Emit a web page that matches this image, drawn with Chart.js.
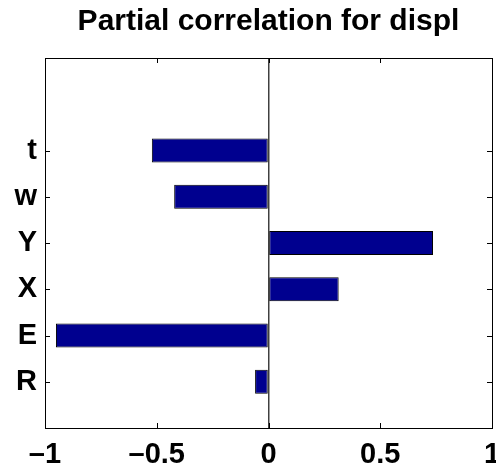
<!DOCTYPE html>
<html>
<head>
<meta charset="utf-8">
<script src="https://cdn.jsdelivr.net/npm/chart.js@4/dist/chart.umd.min.js"></script>
<style>
html,body{margin:0;padding:0;background:#fff;}
#wrap{width:496px;height:470px;}
</style>
</head>
<body>
<div id="wrap"><canvas id="c" width="496" height="470"></canvas></div>
<script>
const titleText = 'Partial correlation for displ';
const categories = ['R', 'E', 'X', 'Y', 'w', 't'];
const positions = [1, 2, 3, 4, 5, 6];
const values = [-0.06, -0.951, 0.314, 0.736, -0.422, -0.522];
const xTickValues = [-1, -0.5, 0, 0.5, 1];

const FONT = "'Liberation Sans', Arial, sans-serif";

const boxPlugin = {
  id: 'box',
  afterDatasetsDraw(chart) {
    const {ctx, chartArea: a, scales} = chart;
    ctx.save();
    ctx.strokeStyle = '#000';
    ctx.lineWidth = 1;
    ctx.beginPath();
    const L = 5;
    scales.x.ticks.forEach(t => {
      const px = Math.round(scales.x.getPixelForValue(t.value)) + 0.5;
      ctx.moveTo(px, a.bottom); ctx.lineTo(px, a.bottom - L);
      ctx.moveTo(px, a.top); ctx.lineTo(px, a.top + L);
    });
    scales.y.ticks.forEach(t => {
      const py = Math.round(scales.y.getPixelForValue(t.value)) + 0.5;
      ctx.moveTo(a.left, py); ctx.lineTo(a.left + L, py);
      ctx.moveTo(a.right, py); ctx.lineTo(a.right - L, py);
    });
    ctx.stroke();
    ctx.strokeRect(Math.round(a.left) + 0.5, Math.round(a.top) + 0.5,
                   Math.round(a.right - a.left), Math.round(a.bottom - a.top));
    ctx.restore();
  }
};

new Chart(document.getElementById('c'), {
  type: 'bar',
  data: {
    datasets: [{
      data: values.map((v, i) => ({x: v, y: positions[i]})),
      backgroundColor: '#00008f',
      borderColor: '#000000',
      borderWidth: 1,
      borderSkipped: false,
      barPercentage: 0.52,
      categoryPercentage: 1
    }]
  },
  options: {
    indexAxis: 'y',
    responsive: false,
    animation: false,
    layout: {padding: {left: 0, right: 4, top: 0, bottom: 0}},
    plugins: {
      legend: {display: false},
      tooltip: {enabled: false},
      title: {
        display: true,
        text: titleText,
        fullSize: false,
        color: '#000',
        font: {family: FONT, size: 30, weight: 'bold'},
        padding: {top: 4, bottom: 18}
      }
    },
    scales: {
      x: {
        type: 'linear',
        min: -1,
        max: 1,
        afterBuildTicks: s => { s.ticks = xTickValues.map(v => ({value: v})); },
        afterFit: s => { s.height = 42; s.paddingLeft = 0; s.paddingRight = 0; },
        border: {display: false},
        grid: {
          drawTicks: false,
          color: c => (c.tick && c.tick.value === 0) ? '#404040' : 'rgba(0,0,0,0)',
          lineWidth: 1.5
        },
        ticks: {
          color: '#000',
          padding: 10,
          maxRotation: 0,
          font: {family: FONT, size: 29, weight: 'bold'},
          callback: v => v < 0 ? '\u2013' + Math.abs(v) : String(v)
        }
      },
      y: {
        type: 'linear',
        min: 0,
        max: 8,
        offset: false,
        afterBuildTicks: s => { s.ticks = positions.map(v => ({value: v})); },
        afterFit: s => { s.width = 45; s.paddingTop = 0; s.paddingBottom = 0; },
        border: {display: false},
        grid: {display: false, drawTicks: false, offset: false},
        ticks: {
          color: '#000',
          padding: 8,
          font: {family: FONT, size: 29, weight: 'bold'},
          callback: v => { const i = positions.indexOf(v); return i >= 0 ? categories[i] : ''; }
        }
      }
    }
  },
  plugins: [boxPlugin]
});
</script>
</body>
</html>
